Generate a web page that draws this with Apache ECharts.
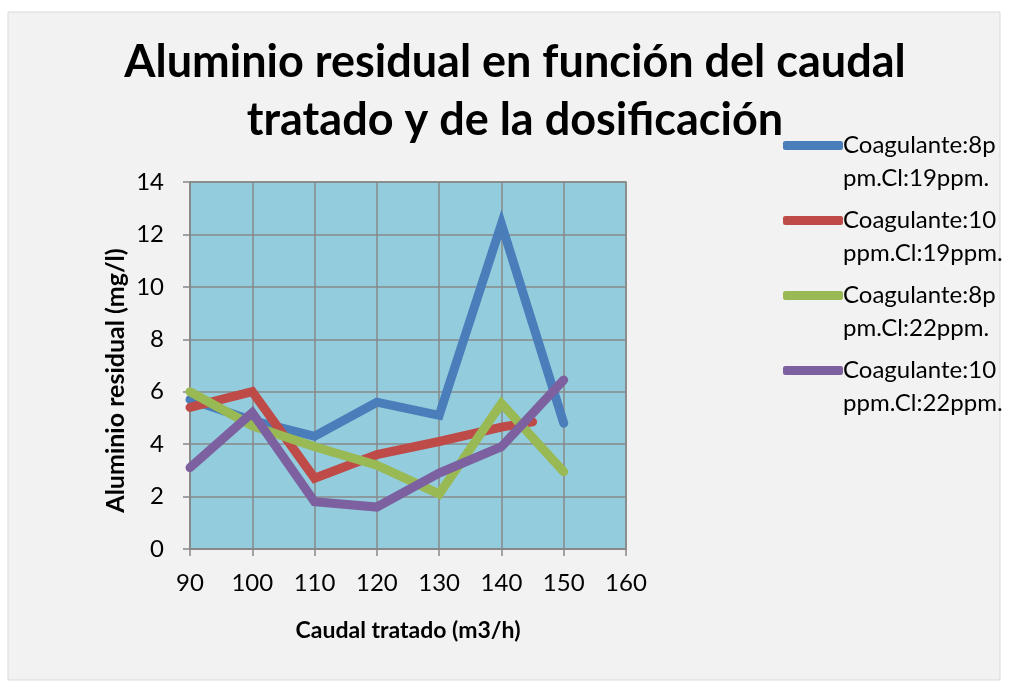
<!DOCTYPE html>
<html>
<head>
<meta charset="utf-8">
<script src="https://cdn.jsdelivr.net/npm/echarts@6/dist/echarts.min.js"></script>
<style>
  html, body { margin: 0; padding: 0; background: #fff; }
  #chart { width: 1010px; height: 684px; }
</style>
</head>
<body>
<div id="chart"></div>
<script>
// datos
var seriesNames = [
  'Coagulante:8ppm.Cl:19ppm.',
  'Coagulante:10ppm.Cl:19ppm.',
  'Coagulante:8ppm.Cl:22ppm.',
  'Coagulante:10ppm.Cl:22ppm.'
];
var caudal = [90, 100, 110, 120, 130, 140, 150];
var caudalRojo = [90, 100, 110, 120, 130, 140, 145];
var azul = [5.7, 4.9, 4.3, 5.6, 5.1, 12.4, 4.8];
var rojo = [5.4, 6.0, 2.7, 3.6, 4.1, 4.65, 4.85];
var verde = [6.0, 4.7, 3.9, 3.2, 2.1, 5.55, 2.95];
var morado = [3.1, 5.2, 1.8, 1.6, 2.9, 3.9, 6.45];
var colores = ['#4a7ebb', '#be4b48', '#98b954', '#7d60a0'];

function pares(xs, ys) {
  var out = [];
  xs.forEach(function(x, i) { out.push([x, ys[i]]); });
  return out;
}

// nombres partidos como en la leyenda original (linea vacia arriba para que el icono quede en la primera linea)
var legendLines = {
  'Coagulante:8ppm.Cl:19ppm.': '\nCoagulante:8p\npm.Cl:19ppm.',
  'Coagulante:10ppm.Cl:19ppm.': '\nCoagulante:10\nppm.Cl:19ppm.',
  'Coagulante:8ppm.Cl:22ppm.': '\nCoagulante:8p\npm.Cl:22ppm.',
  'Coagulante:10ppm.Cl:22ppm.': '\nCoagulante:10\nppm.Cl:22ppm.'
};

var datos = [pares(caudal, azul), pares(caudalRojo, rojo), pares(caudal, verde), pares(caudal, morado)];

var myChart = echarts.init(document.getElementById('chart'));
var fontFam = 'Lato';

var option = {
  animation: false,
  color: colores,
  textStyle: { fontFamily: fontFam },
  graphic: [{
    type: 'rect',
    shape: { x: 8, y: 12, width: 992, height: 668 },
    style: { fill: '#f2f2f2', stroke: '#d9d9d9', lineWidth: 1 },
    z: -10
  }],
  title: {
    text: 'Aluminio residual en función del caudal\ntratado y de la dosificación',
    left: 510,
    top: 28,
    textAlign: 'center',
    textStyle: { fontSize: 45, fontWeight: 'bold', color: '#000', lineHeight: 58, fontFamily: fontFam }
  },
  legend: {
    orient: 'vertical',
    left: 783,
    top: 96,
    padding: 0,
    itemWidth: 60,
    itemHeight: 9,
    itemGap: -24,
    icon: 'roundRect',
    formatter: function(name) { return legendLines[name]; },
    textStyle: { fontSize: 24, color: '#000', lineHeight: 33, padding: [0, 0, 0, -5], fontFamily: fontFam }
  },
  grid: {
    left: 190, top: 182, width: 436, height: 367,
    show: true, backgroundColor: '#93cddd', borderColor: '#888', borderWidth: 1.5
  },
  xAxis: {
    type: 'value', min: 90, max: 160, interval: 10,
    name: 'Caudal tratado (m3/h)',
    nameLocation: 'middle', nameGap: 70,
    nameTextStyle: { fontSize: 23, fontWeight: 'bold', color: '#000', fontFamily: fontFam },
    axisLine: { lineStyle: { color: '#888', width: 1.5 } },
    axisTick: { show: true, length: 7, lineStyle: { color: '#888', width: 1.5 } },
    axisLabel: { fontSize: 24, color: '#000', margin: 22, fontFamily: fontFam },
    splitLine: { show: true, lineStyle: { color: '#888', width: 1.5 } }
  },
  yAxis: {
    type: 'value', min: 0, max: 14, interval: 2,
    name: 'Aluminio residual (mg/l)',
    nameLocation: 'middle', nameGap: 62,
    nameTextStyle: { fontSize: 25, fontWeight: 'bold', color: '#000', fontFamily: fontFam, padding: [0, 30, 0, 0] },
    axisLine: { show: true, lineStyle: { color: '#888', width: 1.5 } },
    axisTick: { show: true, length: 7, lineStyle: { color: '#888', width: 1.5 } },
    axisLabel: { fontSize: 24, color: '#000', margin: 26, fontFamily: fontFam },
    splitLine: { show: true, lineStyle: { color: '#888', width: 1.5 } }
  },
  series: []
};

seriesNames.forEach(function(n, i) {
  option.series.push({
    name: n,
    type: 'line',
    data: datos[i],
    showSymbol: false,
    symbol: 'none',
    lineStyle: { width: 9, cap: 'round', join: 'miter' }
  });
});

myChart.setOption(option);
</script>
</body>
</html>
